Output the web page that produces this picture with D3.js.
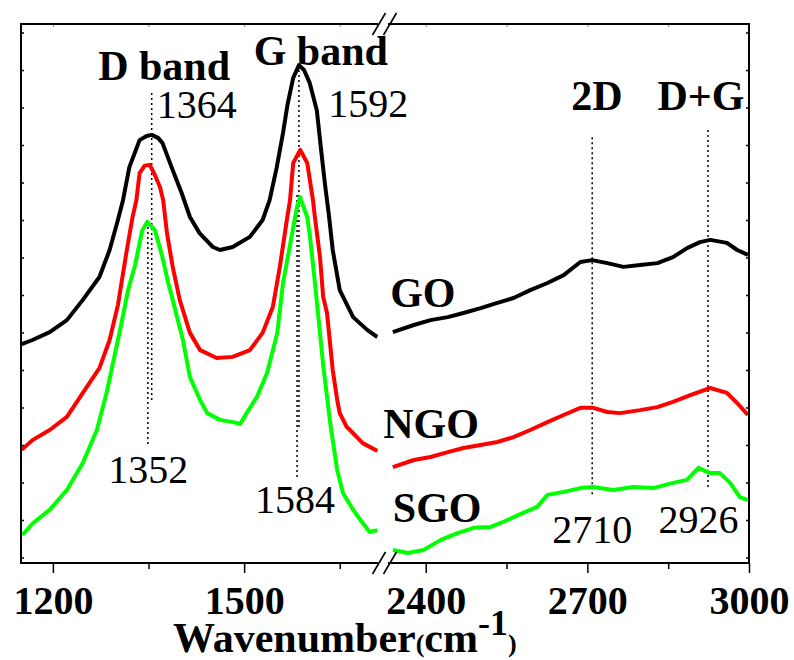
<!DOCTYPE html>
<html>
<head>
<meta charset="utf-8">
<script src="https://cdn.jsdelivr.net/npm/d3@7"></script>
<style>
  body { margin: 0; background: #fff; }
  text { font-family: "Liberation Serif", "Times New Roman", serif; fill: #000; }
</style>
</head>
<body>
<script>
// Define constants
const width = 794
const height = 660
const plot = {left: 21, right: 749, top: 24, bottom: 563, breakL: 378, breakR: 388}

// x ranges of the broken axis (cm-1)
const lowRange = [1150, 1710]
const highRange = [2330, 3000]
const lowTicks = [1200, 1500]
const lowMinor = [1350, 1650]
const highTicks = [2400, 2700, 3000]
const highMinor = [2550, 2850]
const yRange = [-0.147, 14.227]
const yTicks = d3.range(0, 15)

// spectra, [wavenumber, intensity a.u.]
const goLow = [[1151,5.69],[1168,5.80],[1195,6.01],[1222,6.33],[1247,6.87],[1273,7.48],[1289,8.2],[1302,9.0],[1310,9.53],[1320,10.41],[1336,11.13],[1347,11.24],[1355,11.27],[1365,11.19],[1372,11.05],[1388,10.33],[1402,9.72],[1415,9.08],[1430,8.65],[1451,8.28],[1462,8.2],[1482,8.28],[1509,8.55],[1529,9.0],[1540,9.53],[1551,10.39],[1561,11.32],[1568,12.07],[1577,12.79],[1586,13.13],[1594,13.0],[1603,12.65],[1614,11.93],[1622,10.68],[1627,9.93],[1633,9.13],[1639,8.2],[1650,7.13],[1671,6.41],[1693,6.07],[1709,5.88]]
const ngoLow = [[1151,2.87],[1168,3.13],[1195,3.4],[1222,3.75],[1247,4.39],[1273,5.05],[1289,5.8],[1302,6.73],[1316,8.2],[1325,9.08],[1331,9.53],[1336,10.25],[1344,10.45],[1352,10.47],[1360,10.2],[1368,9.88],[1373,9.53],[1379,8.65],[1388,7.75],[1399,6.87],[1415,5.99],[1431,5.53],[1457,5.32],[1482,5.35],[1509,5.53],[1529,5.99],[1545,6.68],[1556,7.75],[1567,9.0],[1572,9.53],[1577,10.52],[1588,10.87],[1599,10.52],[1608,9.53],[1611,9.08],[1619,8.01],[1624,6.95],[1630,6.52],[1639,5.0],[1646,4.2],[1650,3.85],[1661,3.48],[1666,3.4],[1686,3.05],[1709,2.84]]
const sgoLow = [[1152,0.6],[1169,0.92],[1195,1.27],[1222,1.8],[1247,2.52],[1269,3.4],[1285,4.44],[1296,5.32],[1307,6.2],[1318,7.13],[1329,7.8],[1340,8.71],[1348,8.95],[1360,8.73],[1371,8.07],[1381,7.32],[1388,6.87],[1404,5.8],[1415,4.81],[1431,4.2],[1442,3.85],[1462,3.67],[1483,3.61],[1494,3.56],[1504,3.85],[1520,4.28],[1536,4.92],[1552,5.99],[1561,7.32],[1572,8.33],[1583,9.35],[1588,9.61],[1592,9.4],[1599,9.08],[1603,8.6],[1611,7.35],[1624,5.13],[1635,3.59],[1646,2.33],[1655,1.72],[1671,1.27],[1686,0.92],[1697,0.68],[1709,0.73]]

const goHigh = [[2339,6.01],[2378,6.2],[2409,6.33],[2441,6.41],[2470,6.52],[2502,6.65],[2533,6.79],[2563,6.92],[2594,7.13],[2626,7.32],[2656,7.53],[2687,7.88],[2709,7.93],[2737,7.85],[2767,7.75],[2798,7.8],[2830,7.85],[2859,8.01],[2885,8.25],[2909,8.41],[2928,8.47],[2959,8.39],[2978,8.2],[2998,8.07]]
const ngoHigh = [[2339,2.41],[2378,2.6],[2409,2.68],[2441,2.81],[2470,2.92],[2502,3.0],[2533,3.08],[2563,3.21],[2594,3.4],[2626,3.61],[2656,3.8],[2687,3.99],[2711,3.99],[2737,3.88],[2761,3.85],[2798,3.93],[2830,4.01],[2859,4.15],[2891,4.33],[2928,4.52],[2959,4.39],[2978,4.12],[2998,3.8]]
const sgoHigh = [[2339,0.2],[2367,0.12],[2396,0.2],[2428,0.47],[2459,0.65],[2489,0.79],[2520,0.81],[2552,1.0],[2581,1.19],[2607,1.35],[2626,1.67],[2656,1.75],[2687,1.85],[2711,1.88],[2748,1.8],[2785,1.88],[2822,1.85],[2859,1.99],[2885,2.07],[2906,2.39],[2928,2.25],[2946,2.25],[2965,1.99],[2983,1.61],[2998,1.53]]

const series = [
  {name: 'GO', color: '#000000', low: goLow, high: goHigh},
  {name: 'NGO', color: '#ff0000', low: ngoLow, high: ngoHigh},
  {name: 'SGO', color: '#00ff00', low: sgoLow, high: sgoHigh}
]

// dotted peak markers: [panel, wavenumber, from, to]
const peakLines = [
  ['low', 1355, 12.39, 4.12],
  ['low', 1349, 8.95, 2.95],
  ['low', 1586, 13.0, 3.48],
  ['low', 1583, 9.67, 2.07],
  ['high', 2709, 11.21, 1.67],
  ['high', 2924, 11.4, 1.85]
]

// text labels: [panel, wavenumber, intensity, text, bold]
const labels = [
  ['low', 1271, 12.73, 'D band', true],
  ['low', 1515, 13.13, 'G band', true],
  ['low', 1363, 11.72, '1364', false],
  ['low', 1632, 11.75, '1592', false],
  ['low', 1287, 1.99, '1352', false],
  ['low', 1517, 1.19, '1584', false],
  ['high', 2670, 11.93, '2D', true],
  ['high', 2830, 11.93, 'D+G', true],
  ['high', 2635, 0.39, '2710', false],
  ['high', 2832, 0.65, '2926', false],
  ['high', 2334, 6.68, 'GO', true],
  ['high', 2321, 3.19, 'NGO', true],
  ['high', 2339, 0.95, 'SGO', true]
]

// Define svg
const svg = d3.select('body').append('svg')
  .attr('width', width)
  .attr('height', height)

// scales
const xLow = d3.scaleLinear().domain(lowRange).range([plot.left, plot.breakL])
const xHigh = d3.scaleLinear().domain(highRange).range([plot.breakR, plot.right])
const y = d3.scaleLinear().domain(yRange).range([plot.bottom, plot.top])
const xOf = p => p === 'low' ? xLow : xHigh

// clip each panel
const defs = svg.append('defs')
defs.append('clipPath').attr('id', 'clip-low').append('rect')
  .attr('x', plot.left).attr('y', plot.top)
  .attr('width', plot.breakL - plot.left).attr('height', plot.bottom - plot.top)
defs.append('clipPath').attr('id', 'clip-high').append('rect')
  .attr('x', plot.breakR).attr('y', plot.top)
  .attr('width', plot.right - plot.breakR).attr('height', plot.bottom - plot.top)

// dotted lines first, spectra on top
svg.append('g').selectAll('line').data(peakLines)
  .enter().append('line')
  .attr('x1', d => xOf(d[0])(d[1]))
  .attr('x2', d => xOf(d[0])(d[1]))
  .attr('y1', d => y(d[2]))
  .attr('y2', d => y(d[3]))
  .attr('stroke', '#000')
  .attr('stroke-width', 1.5)
  .attr('stroke-dasharray', '2,3')

// Draw spectra
const drawPanel = (key, xs) => {
  const line = d3.line().x(d => xs(d[0])).y(d => y(d[1]))
  svg.append('g')
    .attr('clip-path', `url(#clip-${key})`)
    .selectAll('path').data(series)
    .enter().append('path')
    .attr('d', d => line(d[key]))
    .attr('fill', 'none')
    .attr('stroke', d => d.color)
    .attr('stroke-width', 4)
    .attr('stroke-linejoin', 'round')
}
drawPanel('low', xLow)
drawPanel('high', xHigh)

// axes (ticks only, the frame is drawn below)
const tickStyle = g => {
  g.select('.domain').remove()
  g.selectAll('.tick line').attr('stroke', '#000').attr('stroke-width', 1.5)
}
const bottomAxis = (xs, major, minor) => {
  svg.append('g')
    .attr('transform', `translate(0,${plot.bottom})`)
    .call(d3.axisBottom(xs).tickValues(major).tickSize(10).tickFormat(d3.format('d')))
    .call(tickStyle)
    .call(g => g.selectAll('text')
      .attr('y', 51).attr('dy', 0)
      .style('font-size', '40px').style('font-weight', 'bold'))
  svg.append('g')
    .attr('transform', `translate(0,${plot.bottom})`)
    .call(d3.axisBottom(xs).tickValues(minor).tickSize(6).tickFormat(''))
    .call(tickStyle)
  svg.append('g')
    .attr('transform', `translate(0,${plot.top})`)
    .call(d3.axisTop(xs).tickValues(major.concat(minor)).tickSize(-3).tickFormat(''))
    .call(tickStyle)
    .call(g => g.selectAll('.tick line').attr('stroke', '#888').attr('stroke-width', 1))
}
bottomAxis(xLow, lowTicks, lowMinor)
bottomAxis(xHigh, highTicks, highMinor)

svg.append('g')
  .attr('transform', `translate(${plot.left},0)`)
  .call(d3.axisLeft(y).tickValues(yTicks).tickSize(-3).tickFormat(''))
  .call(tickStyle)
svg.append('g')
  .attr('transform', `translate(${plot.right},0)`)
  .call(d3.axisRight(y).tickValues(yTicks).tickSize(-3).tickFormat(''))
  .call(tickStyle)

// frame with a gap at the break
const frame = svg.append('g').attr('stroke', '#000').attr('stroke-width', 2)
frame.append('line').attr('x1', plot.left).attr('x2', plot.left).attr('y1', plot.top - 1).attr('y2', plot.bottom + 1)
frame.append('line').attr('x1', plot.right).attr('x2', plot.right).attr('y1', plot.top - 1).attr('y2', plot.bottom + 1)
;[plot.top, plot.bottom].forEach(yy => {
  frame.append('line').attr('x1', plot.left).attr('x2', plot.breakL).attr('y1', yy).attr('y2', yy)
  frame.append('line').attr('x1', plot.breakR).attr('x2', plot.right).attr('y1', yy).attr('y2', yy)
  // break marks
  ;[plot.breakL + 1, plot.breakR + 2].forEach(cx => {
    frame.append('line')
      .attr('x1', cx - 6.5).attr('y1', yy + 11)
      .attr('x2', cx + 6.5).attr('y2', yy - 11)
      .attr('stroke-width', 1.6)
  })
})

// annotations
svg.append('g').selectAll('text').data(labels)
  .enter().append('text')
  .attr('x', d => xOf(d[0])(d[1]))
  .attr('y', d => y(d[2]))
  .style('font-size', d => d[4] ? '42px' : '40px')
  .style('font-weight', d => d[4] ? 'bold' : 'normal')
  .text(d => d[3])

// x axis title
const title = svg.append('text')
  .attr('x', 173)
  .attr('y', 652)
  .style('font-weight', 'bold')
title.append('tspan').style('font-size', '42px').text('Wavenumber')
title.append('tspan').style('font-size', '26px').text('(')
title.append('tspan').style('font-size', '42px').text('cm')
title.append('tspan').style('font-size', '36px').attr('dy', -17).text('-1')
title.append('tspan').style('font-size', '26px').attr('dy', 17).text(')')
</script>
</body>
</html>
